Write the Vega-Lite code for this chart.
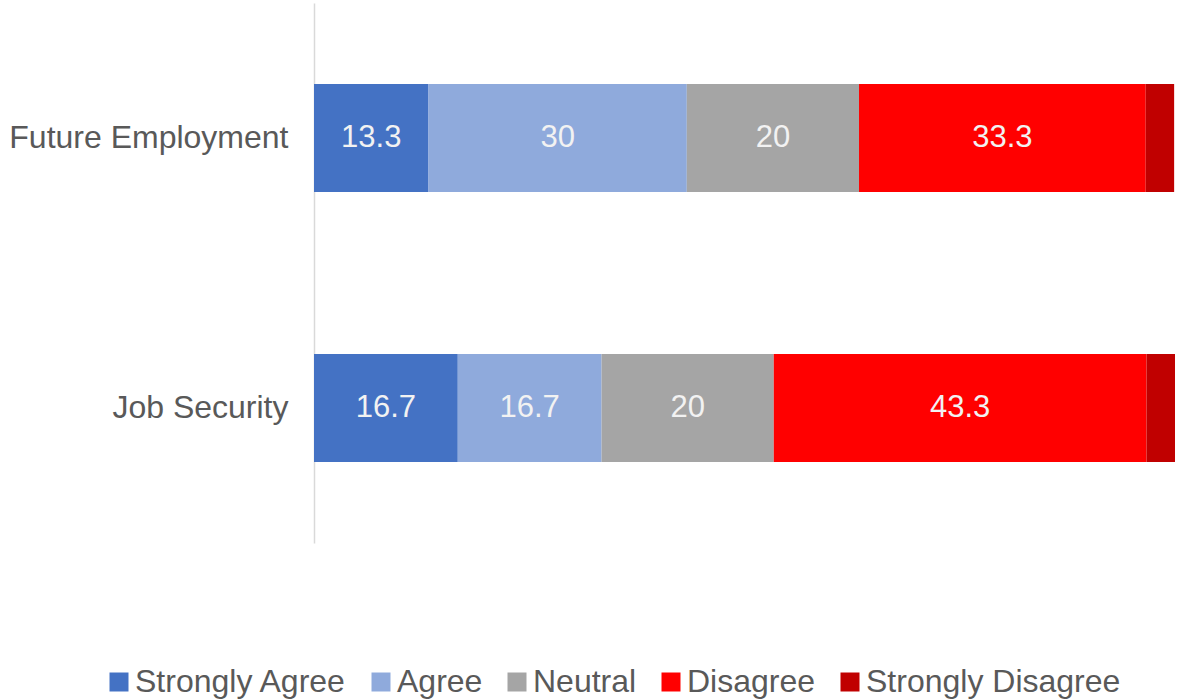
{
  "$schema": "https://vega.github.io/schema/vega-lite/v6.json",
  "autosize": "none",
  "width": 861,
  "height": 540,
  "padding": {"left": 314, "top": 3, "right": 3, "bottom": 157},
  "background": "white",
  "config": {
    "view": {"stroke": null},
    "font": "Liberation Sans"
  },
  "data": {
    "values": [
      {"item": "Future Employment", "response": "Strongly Agree", "order": 1, "value": 13.3},
      {"item": "Future Employment", "response": "Agree", "order": 2, "value": 30},
      {"item": "Future Employment", "response": "Neutral", "order": 3, "value": 20},
      {"item": "Future Employment", "response": "Disagree", "order": 4, "value": 33.3},
      {"item": "Future Employment", "response": "Strongly Disagree", "order": 5, "value": 3.3},
      {"item": "Job Security", "response": "Strongly Agree", "order": 1, "value": 16.7},
      {"item": "Job Security", "response": "Agree", "order": 2, "value": 16.7},
      {"item": "Job Security", "response": "Neutral", "order": 3, "value": 20},
      {"item": "Job Security", "response": "Disagree", "order": 4, "value": 43.3},
      {"item": "Job Security", "response": "Strongly Disagree", "order": 5, "value": 3.3}
    ]
  },
  "transform": [
    {"stack": "value", "groupby": ["item"], "sort": [{"field": "order", "order": "ascending"}], "as": ["v0", "v1"]}
  ],
  "encoding": {
    "y": {
      "field": "item",
      "type": "nominal",
      "sort": ["Future Employment", "Job Security"],
      "scale": {"paddingInner": 0.6, "paddingOuter": 0.3},
      "axis": {
        "title": null,
        "ticks": false,
        "domainColor": "#D9D9D9",
        "domainWidth": 1.5,
        "labelFontSize": 32,
        "labelColor": "#595959",
        "labelPadding": 26,
        "labelFont": "Liberation Sans",
        "labelLimit": 400
      }
    }
  },
  "layer": [
    {
      "mark": {"type": "bar"},
      "encoding": {
        "x": {
          "field": "v0",
          "type": "quantitative",
          "scale": {"domain": [0, 100], "nice": false, "zero": true},
          "axis": null
        },
        "x2": {"field": "v1"},
        "color": {
          "field": "response",
          "type": "nominal",
          "scale": {
            "domain": ["Strongly Agree", "Agree", "Neutral", "Disagree", "Strongly Disagree"],
            "range": ["#4472C4", "#8FAADC", "#A5A5A5", "#FF0000", "#C00000"]
          },
          "legend": {
            "title": null,
            "orient": "none",
            "direction": "horizontal",
            "legendX": -211,
            "legendY": 663,
            "symbolType": "square",
            "symbolSize": 361,
            "symbolStrokeWidth": 0,
            "symbolOpacity": 1,
            "labelFontSize": 32,
            "labelColor": "#595959",
            "labelFont": "Liberation Sans",
            "labelOffset": 0,
            "columnPadding": 18,
            "labelLimit": 400
          }
        }
      }
    },
    {
      "transform": [
        {"filter": "datum.value > 5"},
        {"calculate": "(datum.v0 + datum.v1) / 2", "as": "mid"}
      ],
      "mark": {"type": "text", "color": "#F2F2F2", "fontSize": 31, "font": "Liberation Sans", "align": "center", "baseline": "middle"},
      "encoding": {
        "x": {"field": "mid", "type": "quantitative", "scale": {"domain": [0, 100], "nice": false, "zero": true}, "axis": null},
        "text": {"field": "value", "type": "quantitative"}
      }
    }
  ]
}
